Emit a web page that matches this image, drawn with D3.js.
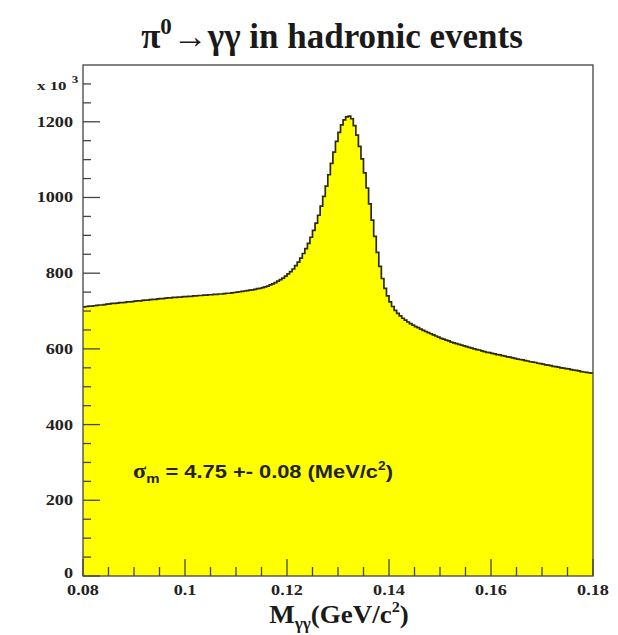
<!DOCTYPE html>
<html>
<head>
<meta charset="utf-8">
<script src="https://cdn.jsdelivr.net/npm/d3@7"></script>
<style>
  html, body { margin: 0; padding: 0; background: #fff; }
  svg { display: block; }
</style>
</head>
<body>
<div id="chart"></div>
<script>
// Histogram: 200 bins of 0.5 MeV from 0.08 to 0.18 GeV, entries in units of 10^3
const binLow = 0.08;
const binWidth = 0.0005;
const counts = [
  711, 712, 713, 713, 714, 715, 716, 716, 717, 718, 719, 720, 720, 721, 722, 722, 723, 724, 724, 725,
  726, 727, 727, 728, 729, 729, 730, 731, 731, 732, 733, 733, 734, 735, 735, 736, 736, 737, 737, 738,
  738, 739, 739, 740, 740, 741, 741, 742, 742, 743, 743, 744, 744, 745, 745, 746, 747, 747, 748, 749,
  750, 751, 752, 753, 754, 755, 756, 757, 759, 760, 762, 764, 766, 769, 772, 775, 779, 783, 787, 792,
  798, 804, 811, 820, 829, 840, 852, 865, 879, 895, 913, 932, 953, 977, 1003, 1030, 1060, 1090, 1120, 1148,
  1172, 1192, 1205, 1213, 1215, 1208, 1190, 1165, 1135, 1102, 1065, 1025, 983, 940, 897, 855, 818, 786, 760, 740,
  724, 712, 702, 694, 687, 681, 676, 671, 667, 663, 659, 656, 652, 649, 646, 643, 640, 637, 634, 631,
  628, 626, 623, 621, 618, 616, 614, 612, 610, 608, 606, 604, 602, 600, 598, 597, 595, 593, 591, 590,
  588, 587, 585, 584, 582, 581, 579, 578, 576, 575, 573, 572, 571, 569, 568, 566, 565, 564, 562, 561,
  560, 558, 557, 556, 554, 553, 552, 550, 549, 548, 547, 545, 544, 543, 542, 540, 539, 538, 537, 536
];
const xMajorTicks = [0.08, 0.1, 0.12, 0.14, 0.16, 0.18];
const xTickLabels = ['0.08', '0.1', '0.12', '0.14', '0.16', '0.18'];
const yMajorTicks = [0, 200, 400, 600, 800, 1000, 1200];

const W = 618, H = 635;
const M = { left: 83, right: 25, top: 65, bottom: 59 };
const serif = '"Liberation Serif", "Times New Roman", serif';
const sans = '"Liberation Sans", Arial, Helvetica, sans-serif';

const svg = d3.select('#chart').append('svg')
  .attr('width', W).attr('height', H);

const x = d3.scaleLinear().domain([0.08, 0.18]).range([M.left, W - M.right]);
const y = d3.scaleLinear().domain([0, 1350]).range([H - M.bottom, M.top]);

// text that is a bit wider than the font, like the original render
const stretched = (px, py, sx) => svg.append('g')
  .attr('transform', `translate(${px},${py}) scale(${sx},1)`);

// histogram as step points (left edge of each bin, plus closing edge)
const pts = counts.map((c, i) => [binLow + i * binWidth, c]);
pts.push([binLow + counts.length * binWidth, counts[counts.length - 1]]);

const area = d3.area()
  .x(d => x(d[0])).y0(y(0)).y1(d => y(d[1]))
  .curve(d3.curveStepAfter);
const line = d3.line()
  .x(d => x(d[0])).y(d => y(d[1]))
  .curve(d3.curveStepAfter);

svg.append('path').datum(pts)
  .attr('d', area)
  .attr('fill', '#ffff00');
svg.append('path').datum(pts)
  .attr('d', line)
  .attr('fill', 'none')
  .attr('stroke', '#2b2b18')
  .attr('stroke-width', 1.7);

// frame
svg.append('rect')
  .attr('x', x(0.08)).attr('y', y(1350))
  .attr('width', x(0.18) - x(0.08)).attr('height', y(0) - y(1350))
  .attr('fill', 'none').attr('stroke', '#444').attr('stroke-width', 1.3);

// x ticks
const xMinor = d3.range(0, 21).map(i => 0.08 + i * 0.005);
svg.append('g').selectAll('line').data(xMinor).join('line')
  .attr('x1', d => x(d)).attr('x2', d => x(d))
  .attr('y1', y(0)).attr('y2', (d, i) => y(0) - (i % 4 === 0 ? 17 : 9))
  .attr('stroke', '#444').attr('stroke-width', 1.3);

xMajorTicks.forEach((d, i) => {
  stretched(x(d), y(0) + 19, 1.3).append('text')
    .attr('text-anchor', 'middle')
    .attr('font-family', serif).attr('font-weight', 'bold').attr('font-size', 14)
    .attr('fill', '#222')
    .text(xTickLabels[i]);
});

// y ticks
const yMinor = d3.range(0, 27).map(i => i * 50);
svg.append('g').selectAll('line').data(yMinor).join('line')
  .attr('x1', x(0.08)).attr('x2', (d, i) => x(0.08) + (i % 4 === 0 ? 17 : 8))
  .attr('y1', d => y(d)).attr('y2', d => y(d))
  .attr('stroke', '#444').attr('stroke-width', 1.3);

yMajorTicks.forEach(d => {
  stretched(x(0.08) - 10, y(d) + (d === 0 ? 2 : 5), 1.3).append('text')
    .attr('text-anchor', 'end')
    .attr('font-family', serif).attr('font-weight', 'bold').attr('font-size', 14)
    .attr('fill', '#222')
    .text(d);
});

// x 10^3 multiplier
const mult = stretched(37, 90, 1.3).append('text')
  .attr('font-family', serif).attr('font-weight', 'bold').attr('font-size', 13)
  .attr('fill', '#222');
mult.append('tspan').text('x 10');
mult.append('tspan').attr('dx', 4).attr('dy', -7).attr('font-size', 10).text('3');

// title
const title = svg.append('text')
  .attr('x', 332).attr('y', 48)
  .attr('text-anchor', 'middle')
  .attr('font-family', serif).attr('font-weight', 'bold').attr('font-size', 35)
  .attr('fill', '#1a1a1a');
title.append('tspan').text('π');
title.append('tspan').attr('dy', -14).attr('font-size', 23).text('0');
title.append('tspan').attr('dy', 14).attr('dx', 1).text('→γγ in hadronic events');

// x axis title
const xt = stretched(339, 623, 1.08).append('text')
  .attr('text-anchor', 'middle')
  .attr('font-family', serif).attr('font-weight', 'bold').attr('font-size', 25)
  .attr('fill', '#1a1a1a');
xt.append('tspan').text('M');
xt.append('tspan').attr('dy', 6).attr('font-size', 16).text('γγ');
xt.append('tspan').attr('dy', -6).text('(GeV/c');
xt.append('tspan').attr('dy', -11).attr('font-size', 15).text('2');
xt.append('tspan').attr('dy', 11).text(')');

// fit annotation
const ann = stretched(133, 478, 1.15).append('text')
  .attr('font-family', sans).attr('font-weight', 'bold').attr('font-size', 19)
  .attr('fill', '#222');
ann.append('tspan').attr('font-family', serif).attr('font-size', 21).text('σ');
ann.append('tspan').attr('dy', 5).attr('font-size', 13).text('m');
ann.append('tspan').attr('dy', -5).text(' = 4.75 +- 0.08 (MeV/c');
ann.append('tspan').attr('dy', -8).attr('font-size', 12).text('2');
ann.append('tspan').attr('dy', 8).text(')');
</script>
</body>
</html>
